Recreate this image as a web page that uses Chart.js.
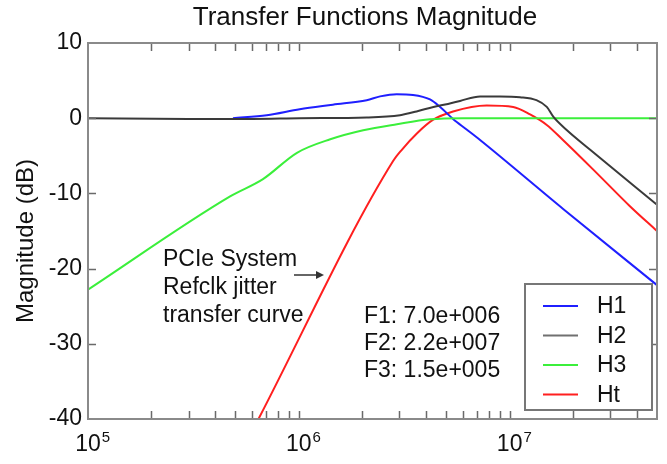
<!DOCTYPE html>
<html>
<head>
<meta charset="utf-8">
<script src="https://cdn.jsdelivr.net/npm/chart.js@4/dist/chart.umd.min.js"></script>
<style>
  html, body { margin: 0; padding: 0; background: #ffffff; }
  #wrap { width: 667px; height: 464px; }
</style>
</head>
<body>
<div id="wrap"><canvas id="c" width="667" height="464"></canvas></div>
<script>
// ---- data (frequency in Hz, magnitude in dB) ----
const H1_FREQ = [4.87e5, 7.05e5, 1.01e6, 1.45e6, 2.10e6, 2.43e6, 2.91e6, 3.48e6, 4.19e6, 4.68e6, 5.39e6, 6.25e6, 7.24e6, 1.80e7, 5.0e7];
const H1_DB   = [0.0, 0.4, 1.2, 1.8, 2.4, 2.9, 3.2, 3.1, 2.5, 1.5, -0.1, -1.5, -2.9, -12.1, -22.2];

const H2_FREQ = [1.0e5, 3.0e5, 6.0e5, 1.01e6, 2.10e6, 3.02e6, 3.62e6, 4.35e6, 5.1e6, 5.82e6, 7.24e6, 9.0e6, 1.12e7, 1.34e7, 1.50e7, 1.61e7, 1.87e7, 2.41e7, 5.0e7];
const H2_DB   = [0.0, -0.1, -0.1, 0.0, 0.1, 0.4, 0.9, 1.5, 1.9, 2.3, 2.9, 2.9, 2.8, 2.4, 1.5, 0.2, -1.6, -4.2, -11.5];

const H3_FREQ = [1.0e5, 4.72e5, 6.76e5, 9.8e5, 1.41e6, 2.02e6, 2.92e6, 4.19e6, 6.0e6, 5.0e7];
const H3_DB   = [-22.8, -10.4, -8.1, -4.6, -2.8, -1.6, -0.8, -0.15, 0.0, 0.0];

const HT_FREQ = [6.3e5, 2.80e6, 3.08e6, 3.64e6, 4.34e6, 5.39e6, 7.78e6, 1.04e7, 1.25e7, 1.50e7, 1.79e7, 2.59e7, 3.72e7, 5.0e7];
const HT_DB   = [-40.5, -5.7, -4.2, -2.0, -0.2, 0.9, 1.7, 1.5, 0.5, -0.9, -2.9, -7.3, -11.7, -15.0];

const SERIES_NAMES = ['H1', 'H2', 'H3', 'Ht'];
const Y_TICKS = [-40, -30, -20, -10, 0, 10];
const X_DECADES = [5, 6, 7];
const TITLE = 'Transfer Functions Magnitude';
const NOTE_LINES = ['PCIe System', 'Refclk jitter', 'transfer curve'];
const FREQ_LINES = ['F1: 7.0e+006', 'F2: 2.2e+007', 'F3: 1.5e+005'];

// ---- styles ----
const COLORS = { H1: '#1f1fff', H2: '#3a3a3a', H3: '#3bef3b', Ht: '#ff1f1f' };
const LEGEND_COLORS = { H1: '#1f1fff', H2: '#707070', H3: '#3bef3b', Ht: '#ff1f1f' };
const FONT = '"Liberation Sans", Arial, Helvetica, sans-serif';

function pts(f, d) { return f.map((v, i) => ({ x: v, y: d[i] })); }

const seriesData = {
  H1: pts(H1_FREQ, H1_DB),
  H2: pts(H2_FREQ, H2_DB),
  H3: pts(H3_FREQ, H3_DB),
  Ht: pts(HT_FREQ, HT_DB)
};

// drawing order: H2, H3, H1, Ht (later is on top)
const DRAW_ORDER = ['H2', 'H3', 'H1', 'Ht'];

const overlay = {
  id: 'overlay',
  afterDatasetsDraw(chart) {
    const { ctx, chartArea: a, scales: { x, y } } = chart;
    ctx.save();
    // inward tick marks
    ctx.strokeStyle = '#6a6a6a';
    ctx.lineWidth = 1.5;
    const tl = 8;
    X_DECADES.forEach(d => {
      for (let m = 1; m <= 9; m++) {
        const v = m * Math.pow(10, d);
        if (v <= x.min * 1.0001 || v >= x.max * 0.9999) continue;
        const px = Math.round(x.getPixelForValue(v)) + 0.5;
        ctx.beginPath();
        ctx.moveTo(px, a.bottom); ctx.lineTo(px, a.bottom - tl);
        ctx.moveTo(px, a.top); ctx.lineTo(px, a.top + tl);
        ctx.stroke();
      }
    });
    Y_TICKS.forEach(v => {
      if (v <= y.min || v >= y.max) return;
      const py = Math.round(y.getPixelForValue(v)) + 0.5;
      ctx.beginPath();
      ctx.moveTo(a.left, py); ctx.lineTo(a.left + tl, py);
      ctx.moveTo(a.right, py); ctx.lineTo(a.right - tl, py);
      ctx.stroke();
    });
    // frame
    ctx.strokeStyle = '#8a8a8a';
    ctx.lineWidth = 2;
    ctx.strokeRect(a.left, a.top, a.right - a.left, a.bottom - a.top);

    // title
    ctx.fillStyle = '#111';
    ctx.font = '26px ' + FONT;
    ctx.textAlign = 'center';
    ctx.textBaseline = 'middle';
    ctx.fillText(TITLE, 365, 18);

    // x tick labels with superscripts
    ctx.textBaseline = 'alphabetic';
    X_DECADES.forEach(d => {
      const v = Math.pow(10, d);
      const px = x.getPixelForValue(v);
      ctx.font = '23px ' + FONT;
      ctx.textAlign = 'center';
      const w = ctx.measureText('10').width;
      ctx.fillText('10', px, 451);
      ctx.font = '15px ' + FONT;
      ctx.textAlign = 'left';
      ctx.fillText(String(d), px + w / 2 + 1, 442);
    });

    // annotations
    ctx.font = '23px ' + FONT;
    ctx.textAlign = 'left';
    ctx.textBaseline = 'middle';
    NOTE_LINES.forEach((t, i) => ctx.fillText(t, 163, 260 + i * 28));
    FREQ_LINES.forEach((t, i) => ctx.fillText(t, 364, 317 + i * 27));

    // arrow
    ctx.strokeStyle = '#333';
    ctx.lineWidth = 1.5;
    ctx.beginPath();
    ctx.moveTo(294, 275); ctx.lineTo(318, 275);
    ctx.stroke();
    ctx.fillStyle = '#333';
    ctx.beginPath();
    ctx.moveTo(324, 275); ctx.lineTo(316, 271); ctx.lineTo(316, 279); ctx.closePath();
    ctx.fill();

    // legend box
    ctx.fillStyle = '#ffffff';
    ctx.fillRect(525, 284, 127, 126);
    ctx.strokeStyle = '#777';
    ctx.lineWidth = 2;
    ctx.strokeRect(525, 284, 127, 126);
    SERIES_NAMES.forEach((n, i) => {
      const cy = 306 + i * 29.5;
      ctx.strokeStyle = LEGEND_COLORS[n];
      ctx.lineWidth = 2;
      ctx.beginPath();
      ctx.moveTo(543, cy); ctx.lineTo(578, cy);
      ctx.stroke();
      ctx.fillStyle = '#111';
      ctx.font = '23px ' + FONT;
      ctx.textAlign = 'left';
      ctx.textBaseline = 'middle';
      ctx.fillText(n, 597, cy + 1);
    });
    ctx.restore();
  }
};

new Chart(document.getElementById('c'), {
  type: 'line',
  data: {
    datasets: DRAW_ORDER.map(n => ({
      label: n,
      data: seriesData[n],
      borderColor: COLORS[n],
      backgroundColor: COLORS[n],
      borderWidth: 2,
      pointRadius: 0,
      fill: false,
      cubicInterpolationMode: 'monotone'
    }))
  },
  options: {
    responsive: false,
    animation: false,
    devicePixelRatio: 1,
    layout: { padding: { left: 0, right: 10, top: 43, bottom: 0 } },
    plugins: {
      legend: { display: false },
      tooltip: { enabled: false },
      title: { display: false }
    },
    scales: {
      x: {
        type: 'logarithmic',
        min: 1e5,
        max: 5e7,
        grid: { display: false, drawTicks: false },
        border: { display: false },
        ticks: { display: false },
        afterFit(s) { s.height = 45; }
      },
      y: {
        type: 'linear',
        min: -40,
        max: 10,
        grid: { display: false, drawTicks: false },
        border: { display: false },
        ticks: {
          stepSize: 10,
          padding: 6,
          color: '#111',
          font: { family: FONT, size: 23 }
        },
        title: {
          display: true,
          text: 'Magnitude (dB)   ',
          color: '#111',
          font: { family: FONT, size: 24 },
          padding: { top: 12, bottom: 0 }
        },
        afterFit(s) { s.width = 88; }
      }
    }
  },
  plugins: [overlay]
});
</script>
</body>
</html>
